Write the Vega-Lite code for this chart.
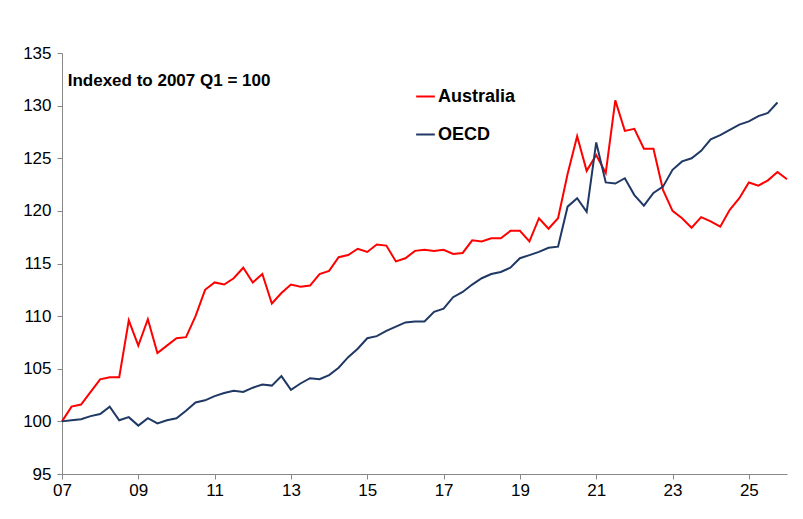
{
  "$schema": "https://vega.github.io/schema/vega-lite/v6.json",
  "width": 725,
  "height": 421,
  "autosize": "none",
  "padding": {"left": 62, "top": 53, "right": 16, "bottom": 45},
  "background": "white",
  "config": {"font": "Liberation Sans", "view": {"stroke": null}},
  "datasets": {
    "aus": [100,101.4,101.6,102.8,104.0,104.2,104.2,109.6,107.2,109.7,106.5,107.2,107.9,108.0,110.0,112.5,113.2,113.0,113.6,114.6,113.2,114.0,111.2,112.2,113.0,112.8,112.9,114.0,114.3,115.6,115.8,116.4,116.1,116.8,116.7,115.2,115.5,116.2,116.3,116.2,116.3,115.9,116.0,117.2,117.1,117.4,117.4,118.1,118.1,117.1,119.3,118.3,119.3,123.5,127.1,123.8,125.3,123.6,130.5,127.6,127.8,125.9,125.9,122.0,120.0,119.3,118.4,119.4,119.0,118.5,120.1,121.2,122.7,122.4,122.9,123.7,123.0],
    "oecd": [100,100.1,100.2,100.5,100.7,101.4,100.1,100.4,99.6,100.3,99.8,100.1,100.3,101.0,101.8,102.0,102.4,102.7,102.9,102.8,103.2,103.5,103.4,104.3,103.0,103.6,104.1,104.0,104.4,105.1,106.1,106.9,107.9,108.1,108.6,109.0,109.4,109.5,109.5,110.4,110.7,111.8,112.3,113.0,113.6,114.0,114.2,114.6,115.5,115.8,116.1,116.5,116.6,120.4,121.2,119.9,126.5,122.7,122.6,123.1,121.5,120.5,121.7,122.3,123.9,124.7,125.0,125.7,126.8,127.2,127.7,128.2,128.5,129.0,129.3,130.3]
  },
  "layer": [
    {
      "data": {"name": "aus"},
      "transform": [
        {"window": [{"op": "row_number", "as": "i"}]},
        {"calculate": "2007 + (datum.i - 1) / 4", "as": "t"},
        {"calculate": "'Australia'", "as": "series"}
      ],
      "mark": {"type": "line", "strokeWidth": 2},
      "encoding": {
        "x": {"field": "t", "type": "quantitative"},
        "y": {"field": "data", "type": "quantitative"},
        "color": {"field": "series", "type": "nominal"}
      }
    },
    {
      "data": {"name": "oecd"},
      "transform": [
        {"window": [{"op": "row_number", "as": "i"}]},
        {"calculate": "2007 + (datum.i - 1) / 4", "as": "t"},
        {"calculate": "'OECD'", "as": "series"}
      ],
      "mark": {"type": "line", "strokeWidth": 2},
      "encoding": {
        "x": {
          "field": "t", "type": "quantitative",
          "scale": {"domain": [2007, 2026], "nice": false, "zero": false},
          "axis": {
            "title": null, "grid": false, "values": [2007,2009,2011,2013,2015,2017,2019,2021,2023,2025],
            "labelExpr": "substring('' + datum.value, 2)", "labelFontSize": 17, "labelColor": "black",
            "labelFlush": false, "domainColor": "#888", "tickColor": "#888", "tickSize": 5, "labelPadding": 3
          }
        },
        "y": {
          "field": "data", "type": "quantitative",
          "scale": {"domain": [95, 135], "nice": false, "zero": false},
          "axis": {
            "title": null, "grid": false, "values": [95,100,105,110,115,120,125,130,135],
            "labelFontSize": 17, "labelColor": "black", "labelFlush": false,
            "domainColor": "#888", "tickColor": "#888", "tickSize": 5, "labelPadding": 6
          }
        },
        "color": {
          "field": "series", "type": "nominal",
          "scale": {"domain": ["Australia", "OECD"], "range": ["#ff0000", "#1f3864"]},
          "legend": {
            "title": null, "orient": "none", "legendX": 353, "legendY": 33,
            "symbolType": "stroke", "symbolSize": 350, "symbolStrokeWidth": 2,
            "labelFontSize": 18, "labelFontWeight": "bold", "labelColor": "black",
            "rowPadding": 18, "labelOffset": 2
          }
        }
      }
    },
    {
      "data": {"values": [{"label": "Indexed to 2007 Q1 = 100", "t": 2007.15, "v": 132.3}]},
      "mark": {"type": "text", "align": "left", "fontSize": 17, "fontWeight": "bold", "color": "black"},
      "encoding": {
        "x": {"field": "t", "type": "quantitative"},
        "y": {"field": "v", "type": "quantitative"},
        "text": {"field": "label"}
      }
    }
  ]
}
